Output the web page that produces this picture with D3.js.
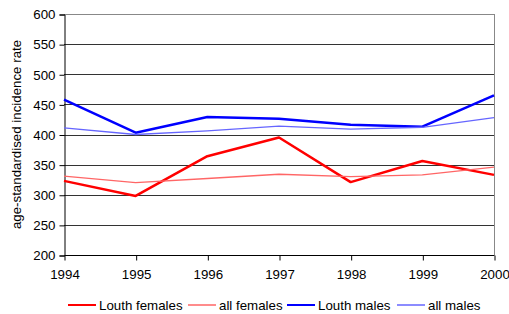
<!DOCTYPE html>
<html><head><meta charset="utf-8">
<script src="https://cdn.jsdelivr.net/npm/d3@7"></script>
<style>body{margin:0;background:#fff}svg{display:block}text{font-family:"Liberation Sans",Arial,sans-serif}</style>
</head><body><svg id="c" width="509" height="314"></svg>
<script>
const years = [1994,1995,1996,1997,1998,1999,2000];
const louthFemales = [323,298,364,395,321,356,333];
const allFemales   = [331,320,327,334,330,333,346];
const louthMales   = [458,403,429,426,416,413,465];
const allMales     = [411,400,406,414,409,412,428];
const yTicks = [200,250,300,350,400,450,500,550,600];
const seriesNames = ["Louth females","all females","Louth males","all males"];

const series = [
  {name:seriesNames[0], values:louthFemales, color:"#ff0000", w:2.5},
  {name:seriesNames[1], values:allFemales,   color:"#ff6666", w:1.3},
  {name:seriesNames[2], values:louthMales,   color:"#0000ff", w:2.5},
  {name:seriesNames[3], values:allMales,     color:"#6666ff", w:1.3}
];

const svg = d3.select("#c");
const L=64, R=494, T=14, B=255;
const x = d3.scaleLinear().domain([1994,2000]).range([L,R]);
const y = d3.scaleLinear().domain([200,600]).range([B,T]);

// gridlines
svg.append("g").selectAll("line").data(yTicks.filter(d=>d>200 && d<600)).join("line")
  .attr("x1",L).attr("x2",R).attr("y1",d=>Math.round(y(d))+0.5).attr("y2",d=>Math.round(y(d))+0.5)
  .attr("stroke","#333").attr("stroke-width",1);
// frame top/right
svg.append("line").attr("x1",L).attr("x2",R+0.5).attr("y1",T+0.5).attr("y2",T+0.5).attr("stroke","#888");
svg.append("line").attr("x1",R+0.5).attr("x2",R+0.5).attr("y1",T).attr("y2",B).attr("stroke","#888");

// axes
const ya = svg.append("g").attr("transform",`translate(${L+0.5},0.5)`)
  .call(d3.axisLeft(y).tickValues(yTicks).tickSize(5).tickPadding(4).tickFormat(d3.format("d")));
const xa = svg.append("g").attr("transform",`translate(0.5,${B+0.5})`)
  .call(d3.axisBottom(x).tickValues(years).tickSize(5).tickPadding(9).tickFormat(d3.format("d")));
[ya,xa].forEach(g=>{
  g.select(".domain").attr("stroke","#000");
  g.selectAll(".tick line").attr("stroke","#000");
  g.selectAll("text").attr("font-size",13.3).attr("fill","#000").attr("font-family","Liberation Sans, Arial, sans-serif");
});
xa.select(".domain").attr("d",`M${L},0H${R}`);

// y label
svg.append("text").attr("transform",`translate(21,${(T+B)/2}) rotate(-90)`)
  .attr("text-anchor","middle").attr("font-size",13.3).text("age-standardised incidence rate");

// lines
const line = d3.line().x((d,i)=>x(years[i])).y(d=>y(d));
svg.append("g").selectAll("path").data(series).join("path")
  .attr("d",d=>line(d.values)).attr("fill","none")
  .attr("stroke",d=>d.color).attr("stroke-width",d=>d.w).attr("stroke-linejoin","round");

// legend
const legX = [68,188,287,397];
const lg = svg.append("g").selectAll("g").data(series).join("g")
  .attr("transform",(d,i)=>`translate(${legX[i]},305)`);
lg.append("line").attr("x1",0).attr("x2",28).attr("y1",0).attr("y2",0)
  .attr("stroke",d=>d.color).attr("stroke-width",d=>d.w>2?2:1.5);
lg.append("text").attr("x",31).attr("y",4.5).attr("font-size",13.3).text(d=>d.name);
</script></body></html>
